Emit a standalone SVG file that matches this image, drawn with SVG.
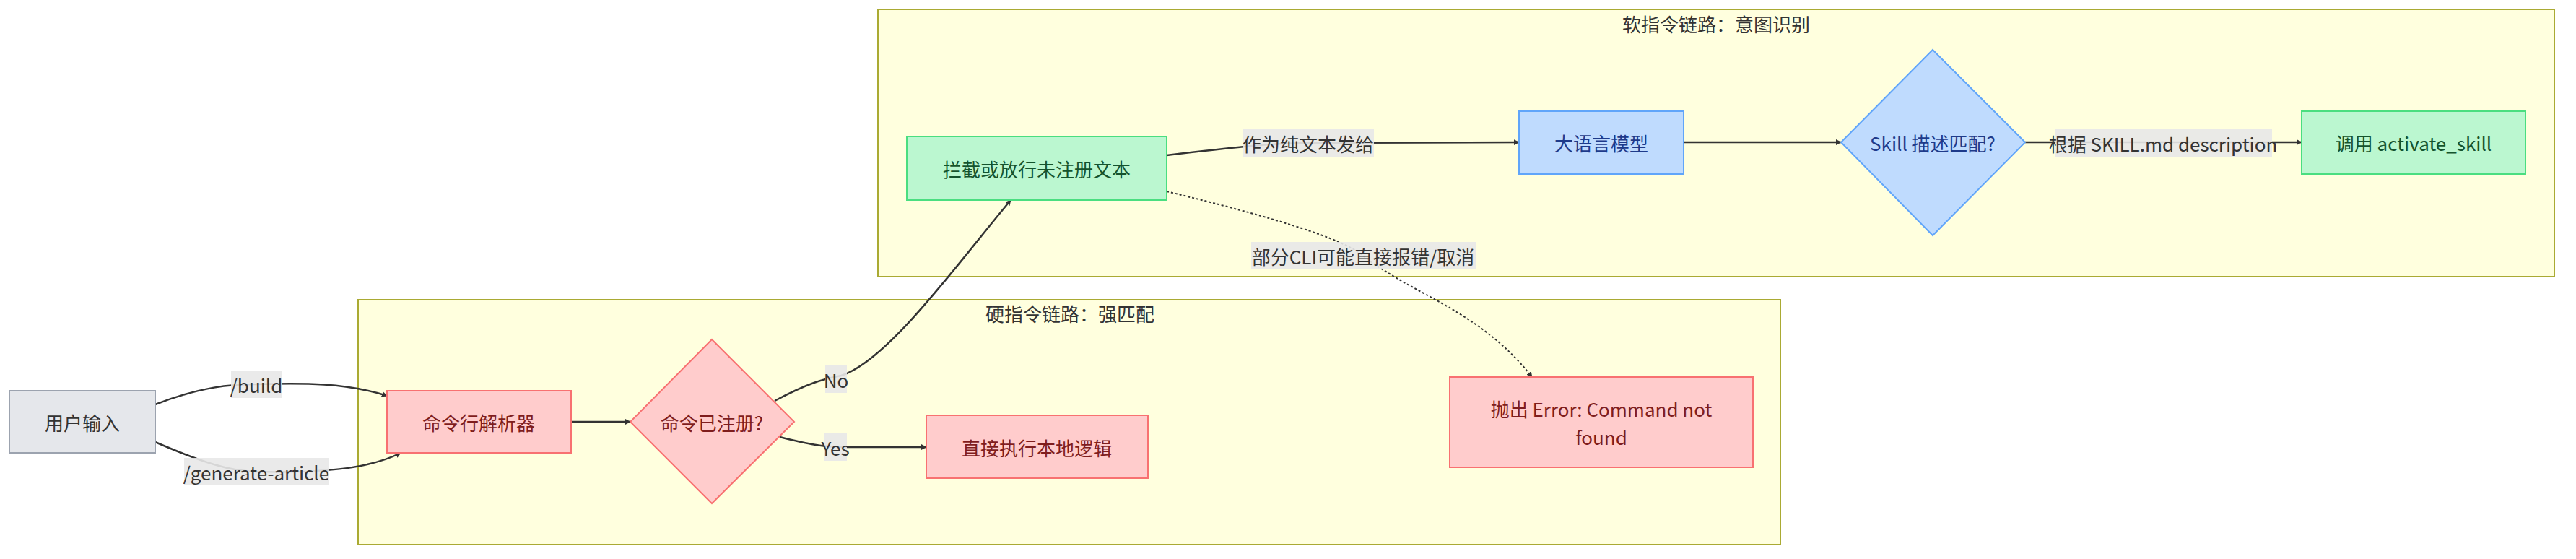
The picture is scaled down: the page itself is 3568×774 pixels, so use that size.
<svg xmlns="http://www.w3.org/2000/svg" width="3568" height="774" viewBox="0 0 3568 774">
<style>
text{font-family:"Noto Sans CJK SC","Noto Sans",sans-serif;font-size:26px;text-anchor:middle;dominant-baseline:central}
.cl{fill:#ffffde;stroke:#aaaa33;stroke-width:2}
.ct{fill:#333}
.gray{fill:#e5e7eb;stroke:#9ca3af;stroke-width:2}
.red{fill:#ffcccc;stroke:#f87171;stroke-width:2}
.green{fill:#bbf7d0;stroke:#4ade80;stroke-width:2}
.blue{fill:#bfdbfe;stroke:#60a5fa;stroke-width:2}
.tr{fill:#7f1d1d}.tg{fill:#14532d}.tb{fill:#1e3a8a}.tk{fill:#333}
.e{fill:none;stroke:#333;stroke-width:2.5;marker-end:url(#a)}
.d{fill:none;stroke:#333;stroke-width:2;stroke-dasharray:3 3;marker-end:url(#a)}
.lb{fill:#e8e8e8;opacity:0.9}
</style>
<defs><marker id="a" viewBox="0 0 10 10" refX="9" refY="5" markerWidth="8" markerHeight="8" markerUnits="userSpaceOnUse" orient="auto"><path d="M0,0L10,5L0,10z" fill="#333"/></marker></defs>
<g id="soft"><rect class="cl" x="1216" y="13" width="2322" height="370"/><text class="ct" x="2377" y="32">软指令链路：意图识别</text></g>
<g id="hard"><rect class="cl" x="496" y="415" width="1970" height="339"/><text class="ct" x="1482" y="433">硬指令链路：强匹配</text></g>
<g id="edges">
<path class="e" d="M215,560 C280,535 320,532 355,532 C420,530 480,530 536,548"/>
<path class="e" d="M215,612 C280,640 320,653 355,653 C440,655 510,650 555,627"/>
<path class="e" d="M791,584 L873,584"/>
<path class="e" d="M1073,555 C1120,530 1140,525 1165,520 C1230,500 1330,360 1400,277"/>
<path class="e" d="M1080,605 C1120,615 1140,619 1170,619 L1283,619"/>
<path class="e" d="M1616,215 C1700,205 1760,198 1812,198 L2104,197"/>
<path class="e" d="M2332,197 L2550,197"/>
<path class="e" d="M2805,197 L3188,197"/>
<path class="d" d="M1616,265 C1760,300 1860,330 1888,354 C1960,410 2050,430 2122,522"/>
<rect class="lb" x="320" y="513" width="70" height="38"/><text class="tk" x="355" y="532">/build</text>
<rect class="lb" x="255" y="634" width="201" height="38"/><text class="tk" x="355" y="653">/generate-article</text>
<rect class="lb" x="1143" y="506" width="30" height="38"/><text class="tk" x="1158" y="525">No</text>
<rect class="lb" x="1141" y="600" width="32" height="38"/><text class="tk" x="1157" y="619">Yes</text>
<rect class="lb" x="1721" y="179" width="182" height="38"/><text class="tk" x="1812" y="198">作为纯文本发给</text>
<rect class="lb" x="1733" y="335" width="311" height="38"/><text class="tk" x="1888" y="354">部分CLI可能直接报错/取消</text>
<rect class="lb" x="2846" y="179" width="301" height="38"/><text class="tk" x="2996" y="198">根据 SKILL.md description</text>
</g>
<g id="user"><rect class="gray" x="13" y="541" width="202" height="86"/><text class="tk" x="114" y="584">用户输入</text></g>
<g id="parser"><rect class="red" x="536" y="541" width="255" height="86"/><text class="tr" x="663" y="584">命令行解析器</text></g>
<g id="registered"><polygon class="red" points="986,470 1100,584 986,697 873,584"/><text class="tr" x="986" y="584">命令已注册?</text></g>
<g id="local"><rect class="red" x="1283" y="575" width="307" height="87"/><text class="tr" x="1436" y="619">直接执行本地逻辑</text></g>
<g id="error"><rect class="red" x="2008" y="522" width="420" height="125"/><text class="tr" x="2218" y="565">抛出 Error: Command not</text><text class="tr" x="2218" y="604">found</text></g>
<g id="intercept"><rect class="green" x="1256" y="189" width="360" height="88"/><text class="tg" x="1436" y="233">拦截或放行未注册文本</text></g>
<g id="llm"><rect class="blue" x="2104" y="154" width="228" height="87"/><text class="tb" x="2218" y="197">大语言模型</text></g>
<g id="skill"><polygon class="blue" points="2677,69 2805,197 2677,326 2550,197"/><text class="tb" x="2677" y="197">Skill 描述匹配?</text></g>
<g id="activate"><rect class="green" x="3188" y="154" width="310" height="87"/><text class="tg" x="3343" y="197">调用 activate_skill</text></g>
</svg>
